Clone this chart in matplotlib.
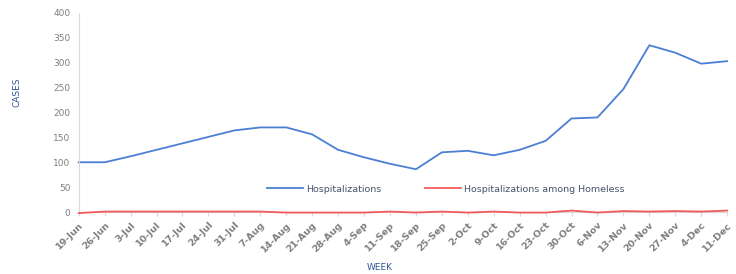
import matplotlib
matplotlib.use("Agg")
import matplotlib.pyplot as plt

weeks = ["19-Jun", "26-Jun", "3-Jul", "10-Jul", "17-Jul", "24-Jul", "31-Jul", "7-Aug",
         "14-Aug", "21-Aug", "28-Aug", "4-Sep", "11-Sep", "18-Sep", "25-Sep", "2-Oct",
         "9-Oct", "16-Oct", "23-Oct", "30-Oct", "6-Nov", "13-Nov", "20-Nov", "27-Nov",
         "4-Dec", "11-Dec"]
hospitalizations = [100, 100, 112, 125, 138, 151, 164, 170, 170, 156, 125, 110, 97, 86,
                    120, 123, 114, 125, 143, 188, 190, 247, 335, 320, 298, 303]
homeless = [-2, 1, 1, 1, 1, 1, 1, 1, -1, -1, -1, -1, 1, -1, 1, -1, 1, -1, -1, 3, -1, 2, 1, 2, 1, 3]
yticks = [0, 50, 100, 150, 200, 250, 300, 350, 400]

fig = plt.figure(figsize=(7.36, 2.74), dpi=100)
ax = fig.add_axes([0.107, 0.226, 0.881, 0.727])
x = list(range(len(weeks)))
ax.plot(x, hospitalizations, color="#4A7FD4", lw=1.3, label="Hospitalizations", clip_on=False)
ax.plot(x, homeless, color="#F25A5A", lw=1.3, label="Hospitalizations among Homeless",
        clip_on=False, zorder=5)

ax.set_xlim(0, len(weeks) - 1)
ax.set_ylim(0, 400)
ax.set_yticks(yticks)
ax.set_yticklabels([str(v) for v in yticks], fontsize=6.5, color="#7F7F7F")
ax.set_xticks(x)
ax.set_xticklabels(weeks, rotation=45, ha="right", rotation_mode="anchor",
                   fontsize=6.8, color="#7F7F7F", fontweight="bold")
ax.tick_params(axis="y", length=0, pad=6)
ax.tick_params(axis="x", length=3, color="#D9D9D9", pad=3)
for s in ["top", "right"]:
    ax.spines[s].set_visible(False)
ax.spines["left"].set_color("#D9D9D9")
ax.spines["bottom"].set_color("#D9D9D9")
ax.set_ylabel("CASES", fontsize=6.5, color="#2F5597", va="center")
ax.set_xlabel("WEEK", fontsize=6.5, color="#2F5597", va="center")
ax.yaxis.set_label_coords(-0.096, 0.60)
ax.xaxis.set_label_coords(0.464, -0.28)
leg = ax.legend(loc="center", bbox_to_anchor=(0.566, 0.115), ncol=2, frameon=False,
                fontsize=6.8, handlelength=3.8, handletextpad=0.3, columnspacing=4.7,
                labelcolor="#44546A")
fig.savefig("out.png", dpi=100)
